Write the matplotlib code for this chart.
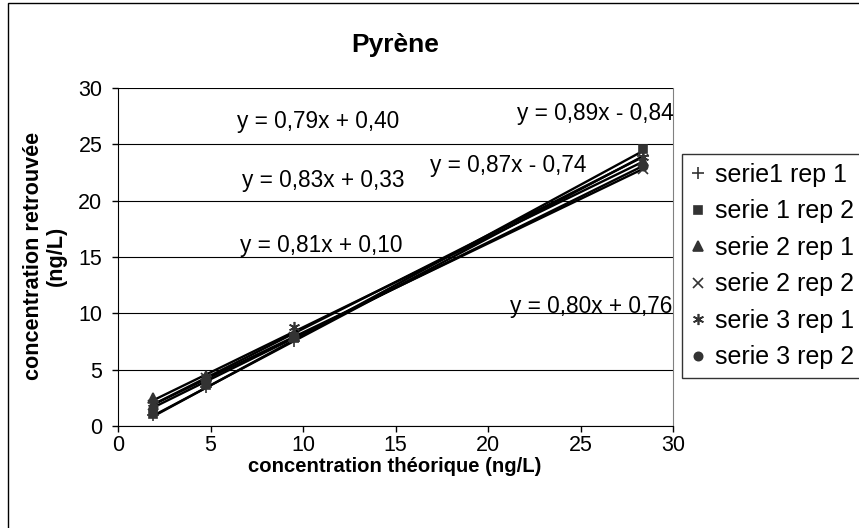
import numpy as np
import matplotlib
matplotlib.use("Agg")
import matplotlib.pyplot as plt
from matplotlib.patches import Rectangle

plt.rcParams['font.family'] = ['Liberation Sans', 'DejaVu Sans']

# data
conc_theo = [1.9, 4.75, 9.5, 28.4]
series_names = ["serie1 rep 1", "serie 1 rep 2", "serie 2 rep 1",
                "serie 2 rep 2", "serie 3 rep 1", "serie 3 rep 2"]
s1r1 = [1.0, 3.5, 7.5, 24.0]
s1r2 = [1.1, 3.6, 7.8, 24.6]
s2r1 = [2.5, 4.4, 8.2, 23.5]
s2r2 = [1.9, 4.3, 7.9, 22.8]
s3r1 = [2.0, 4.3, 8.8, 23.9]
s3r2 = [1.6, 4.1, 8.0, 23.1]
slopes = [0.87, 0.89, 0.80, 0.79, 0.83, 0.81]
intercepts = [-0.74, -0.84, 0.76, 0.40, 0.33, 0.10]

markers = ['+', 's', '^', 'x', (6, 2, 0), 'o']
msizes = [8, 6, 7, 7, 8, 6]
# where the equations are written (data coords)
eq_pos = [(21.1, 23.1), (25.8, 27.7), (25.6, 10.6), (10.8, 27.0), (11.1, 21.8), (11.0, 16.0)]


def eq_text(a, b):
    sign = "+" if b >= 0 else "-"
    return ("y = %.2fx %s %.2f" % (a, sign, abs(b))).replace(".", ",")


fig = plt.figure(figsize=(8.59, 5.28), dpi=100)
ax = fig.add_axes([0.1374, 0.1932, 0.6461, 0.6401])

all_series = [s1r1, s1r2, s2r1, s2r2, s3r1, s3r2]
x = np.array(conc_theo)
for i, ys in enumerate(all_series):
    ax.plot(x, ys, linestyle='none', marker=markers[i], markersize=msizes[i],
            color='#333333', markeredgecolor='#333333', markeredgewidth=1.2,
            label=series_names[i], zorder=3)
    xx = np.array([x.min(), x.max()])
    ax.plot(xx, slopes[i] * xx + intercepts[i], color='black', lw=1.7, zorder=2)
    ax.text(eq_pos[i][0], eq_pos[i][1], eq_text(slopes[i], intercepts[i]),
            ha='center', va='center', fontsize=16.3)

ax.set_xlim(0, 30)
ax.set_ylim(0, 30)
ax.set_xticks(range(0, 31, 5))
ax.set_yticks(range(0, 31, 5))
ax.tick_params(labelsize=15.5, direction='out', length=4.3, width=1)
ax.tick_params(axis='y', pad=7)
ax.tick_params(axis='x', pad=2)
ax.yaxis.grid(True, color='black', lw=0.8)
ax.set_axisbelow(True)
ax.spines['top'].set_visible(False)
ax.spines['right'].set_color('#808080')
ax.spines['left'].set_color('black')
ax.spines['bottom'].set_color('black')

fig.text(0.46, 0.1174, "concentration théorique (ng/L)", ha='center', va='center',
         fontsize=14.6, fontweight='bold')
fig.text(0.052, 0.515, "concentration retrouvée\n(ng/L)", ha='center', va='center',
         rotation=90, fontsize=15.6, fontweight='bold', linespacing=1.1)
fig.text(0.4605, 0.915, "Pyrène", ha='center', va='center', fontsize=19, fontweight='bold')

leg = fig.legend(loc='upper left', bbox_to_anchor=(0.794, 0.708), borderaxespad=0,
                 fontsize=18, frameon=True, fancybox=False, edgecolor='black',
                 handlelength=0.6, handletextpad=0.35, borderpad=0.35, labelspacing=0.5)
leg.get_frame().set_linewidth(1.0)

fig.add_artist(Rectangle((8 / 859, -0.05), 1.1, 1.05 - 3 / 528, fill=False,
                         edgecolor='black', lw=1.0, transform=fig.transFigure,
                         clip_on=False))

fig.savefig("out.png", dpi=100)
